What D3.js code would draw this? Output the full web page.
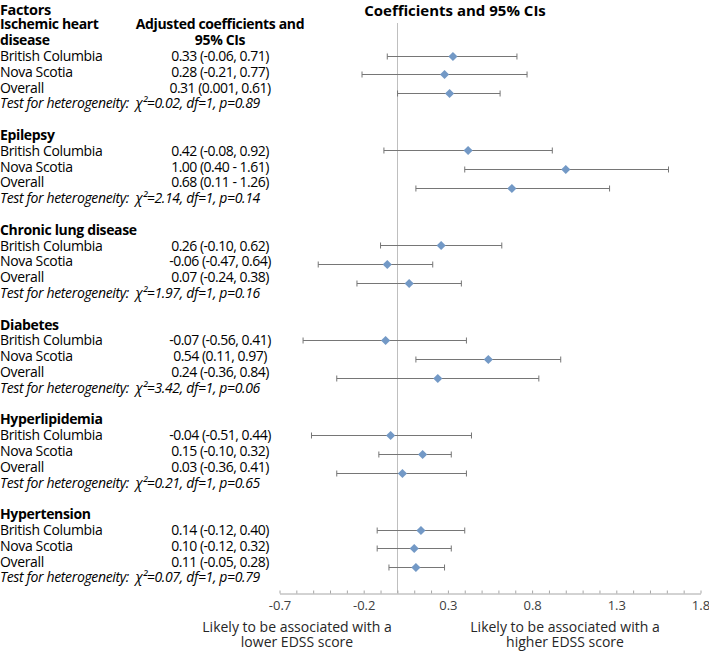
<!DOCTYPE html>
<html>
<head>
<meta charset="utf-8">
<script src="https://cdn.jsdelivr.net/npm/d3@7"></script>
<style>
  html, body { margin: 0; padding: 0; background: #fff; }
  svg { display: block; font-family: "Open Sans", sans-serif; }
  text { white-space: pre; }
</style>
</head>
<body>
<div id="chart"></div>
<script>
// ---------------- data ----------------
const groups = ["Ischemic heart disease", "Epilepsy", "Chronic lung disease", "Diabetes", "Hyperlipidemia", "Hypertension"];
const regions = ["British Columbia", "Nova Scotia", "Overall"];
// plotted coefficients
const estimates = [
  [0.33, 0.28, 0.31],
  [0.42, 1.00, 0.68],
  [0.26, -0.06, 0.07],
  [-0.07, 0.54, 0.24],
  [-0.04, 0.15, 0.03],
  [0.14, 0.10, 0.11]
];
// plotted lower CI bounds
const lower = [
  [-0.06, -0.21, 0.001],
  [-0.08, 0.40, 0.11],
  [-0.10, -0.47, -0.24],
  [-0.56, 0.11, -0.36],
  [-0.51, -0.11, -0.36],
  [-0.12, -0.12, -0.05]
];
// plotted upper CI bounds
const upper = [
  [0.71, 0.77, 0.61],
  [0.92, 1.61, 1.26],
  [0.62, 0.21, 0.38],
  [0.41, 0.97, 0.84],
  [0.44, 0.32, 0.41],
  [0.40, 0.32, 0.28]
];
// table text of the coefficients column
const ciLabels = [
  ["0.33 (-0.06, 0.71)", "0.28 (-0.21, 0.77)", "0.31 (0.001, 0.61)"],
  ["0.42 (-0.08, 0.92)", "1.00 (0.40 - 1.61)", "0.68 (0.11 - 1.26)"],
  ["0.26 (-0.10, 0.62)", "-0.06 (-0.47, 0.64)", "0.07 (-0.24, 0.38)"],
  ["-0.07 (-0.56, 0.41)", "0.54 (0.11, 0.97)", "0.24 (-0.36, 0.84)"],
  ["-0.04 (-0.51, 0.44)", "0.15 (-0.10, 0.32)", "0.03 (-0.36, 0.41)"],
  ["0.14 (-0.12, 0.40)", "0.10 (-0.12, 0.32)", "0.11 (-0.05, 0.28)"]
];
const chiSquare = ["0.02", "2.14", "1.97", "3.42", "0.21", "0.07"];
const pValues = ["0.89", "0.14", "0.16", "0.06", "0.65", "0.79"];
const tickValues = [-0.7, -0.2, 0.3, 0.8, 1.3, 1.8];
const tickLabels = ["-0.7", "-0.2", "0.3", "0.8", "1.3", "1.8"];

// ---------------- layout ----------------
const W = 709, H = 651;
const lineH = 15.8;          // text line height in the table
const line0 = 8.6;           // centre of the first text line
const lineY = k => line0 + k * lineH;
const slotH = lineH * 6 / 5; // 5 plot slots per group of 6 text lines

const svg = d3.select("#chart").append("svg")
  .attr("width", W).attr("height", H);

const x = d3.scaleLinear().domain([-0.7, 1.8]).range([279.5, 700.5]);
const ySlot = d3.scaleLinear().domain([0, 1]).range([55.5, 55.5 + slotH]);
const axisY = 593;
const plotTop = 23;

// ---------------- table ----------------
const FS = 14, LS = "-0.35px";
const tbl = svg.append("g").attr("fill", "#000").attr("letter-spacing", LS);
const valX = 220;

tbl.append("text").attr("x", 0).attr("y", 9.6).attr("dy", "0.35em")
  .attr("font-size", 14.5).attr("font-weight", 700).text("Factors");
tbl.append("text").attr("x", valX).attr("y", lineY(1)).attr("dy", "0.35em")
  .attr("text-anchor", "middle").attr("font-size", FS).attr("font-weight", 700)
  .text("Adjusted coefficients and");
tbl.append("text").attr("x", valX).attr("y", lineY(2)).attr("dy", "0.35em")
  .attr("text-anchor", "middle").attr("font-size", FS).attr("font-weight", 700)
  .text("95% CIs");

groups.forEach((g, gi) => {
  const base = 3 + gi * 6; // line of first region row
  const headerLines = gi === 0 ? ["Ischemic heart", "disease"] : [g];
  headerLines.forEach((t, hi) => {
    tbl.append("text").attr("x", 0)
      .attr("y", lineY(base - headerLines.length + hi)).attr("dy", "0.35em")
      .attr("font-size", FS).attr("font-weight", 700).text(t);
  });
  regions.forEach((r, ri) => {
    tbl.append("text").attr("x", 0).attr("y", lineY(base + ri)).attr("dy", "0.35em")
      .attr("font-size", FS).text(r);
    tbl.append("text").attr("x", valX).attr("y", lineY(base + ri)).attr("dy", "0.35em")
      .attr("text-anchor", "middle").attr("font-size", FS).attr("letter-spacing", "-0.5px")
      .text(ciLabels[gi][ri]);
  });
  tbl.append("text").attr("x", 0).attr("y", lineY(base + 3)).attr("dy", "0.35em")
    .attr("font-size", FS).attr("font-style", "italic")
    .text(`Test for heterogeneity:  \u03C7\u00B2=${chiSquare[gi]}, df=1, p=${pValues[gi]}`);
});

// ---------------- plot ----------------
svg.append("text").attr("x", 455).attr("y", 10.5).attr("dy", "0.35em")
  .attr("text-anchor", "middle").attr("font-size", 15).attr("font-weight", 700)
  .attr("fill", "#000").text("Coefficients and 95% CIs");

// zero reference line
svg.append("line")
  .attr("x1", Math.round(x(0)) + 0.5).attr("x2", Math.round(x(0)) + 0.5)
  .attr("y1", plotTop).attr("y2", axisY)
  .attr("stroke", "#bfbfbf").attr("stroke-width", 1);

// axis
const minorTicks = d3.range(0, 26).map(i => Math.round((-0.7 + i * 0.1) * 10) / 10);
const axis = d3.axisBottom(x)
  .tickValues(minorTicks)
  .tickSizeInner(-3).tickSizeOuter(0).tickPadding(7)
  .tickFormat(d => {
    const idx = tickValues.findIndex(t => Math.abs(t - d) < 1e-9);
    return idx >= 0 ? tickLabels[idx] : "";
  });
const ag = svg.append("g").attr("transform", `translate(0,${axisY + 0.5})`).call(axis);
ag.select(".domain").attr("stroke", "#a6a6a6");
ag.selectAll(".tick line").attr("stroke", "#a6a6a6");
ag.selectAll(".tick text").attr("font-size", 13).attr("fill", "#404040")
  .attr("font-family", "'Open Sans', sans-serif");

// rows
const rows = [];
groups.forEach((g, gi) => regions.forEach((r, ri) => rows.push({
  slot: gi * 5 + ri, est: estimates[gi][ri], lo: lower[gi][ri], hi: upper[gi][ri]
})));

const rg = svg.append("g").selectAll("g").data(rows).join("g")
  .attr("transform", d => `translate(0,${Math.round(ySlot(d.slot)) + 0.5})`);
rg.append("line").attr("x1", d => x(d.lo)).attr("x2", d => x(d.hi))
  .attr("stroke", "#767676").attr("stroke-width", 1.1);
rg.append("line").attr("x1", d => x(d.lo)).attr("x2", d => x(d.lo))
  .attr("y1", -3).attr("y2", 3).attr("stroke", "#767676");
rg.append("line").attr("x1", d => x(d.hi)).attr("x2", d => x(d.hi))
  .attr("y1", -3).attr("y2", 3).attr("stroke", "#767676");
rg.append("path")
  .attr("d", d3.symbol(d3.symbolSquare, 42))
  .attr("transform", d => `translate(${x(d.est)},0) rotate(45)`)
  .attr("fill", "#7399c6");

// bottom captions
const cap = svg.append("g").attr("font-size", 14).attr("fill", "#262626").attr("text-anchor", "middle");
cap.append("text").attr("x", 297).attr("y", 627).attr("dy", "0.35em").text("Likely to be associated with a");
cap.append("text").attr("x", 297).attr("y", 642).attr("dy", "0.35em").text("lower EDSS score");
cap.append("text").attr("x", 565).attr("y", 627).attr("dy", "0.35em").text("Likely to be associated with a");
cap.append("text").attr("x", 565).attr("y", 642).attr("dy", "0.35em").text("higher EDSS score");
</script>
</body>
</html>
